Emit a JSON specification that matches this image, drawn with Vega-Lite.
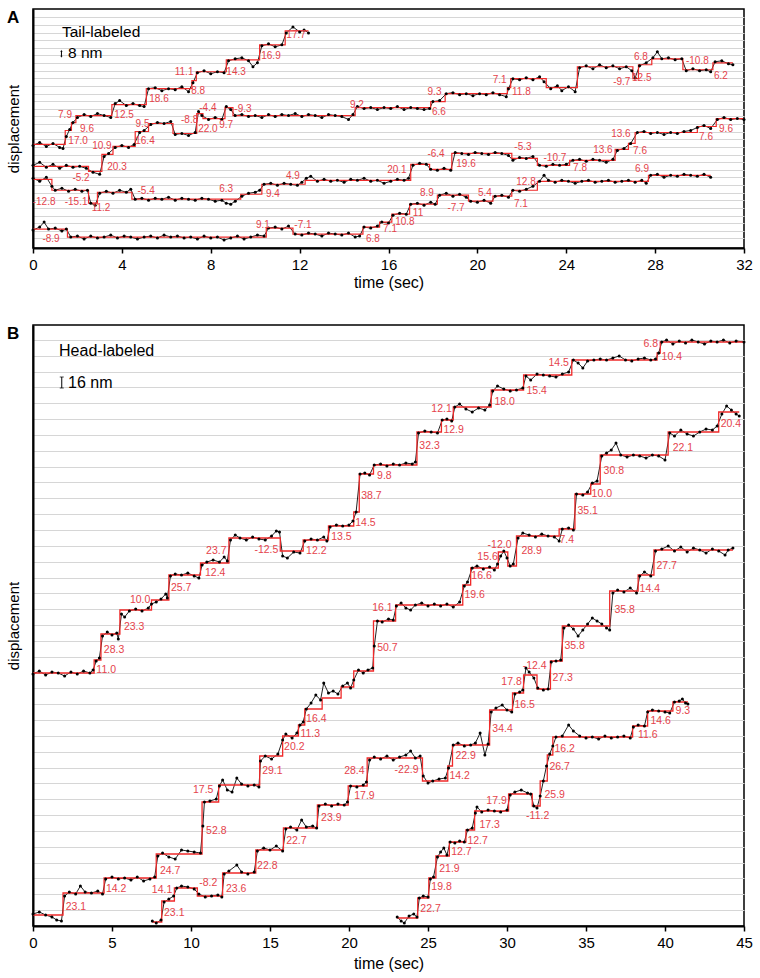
{
"$schema": "https://vega.github.io/schema/vega-lite/v6.json",
"background": "white",
"padding": {"left": 5, "top": 8, "right": 5, "bottom": 2},
"spacing": 33,
"config": {
  "font": "Liberation Sans",
  "view": {"stroke": "black", "strokeWidth": 1.5},
  "axis": {"labelFont": "Liberation Sans", "titleFont": "Liberation Sans", "labelFontSize": 15, "titleFontSize": 16, "titleFontWeight": "normal", "labelColor": "black", "titleColor": "black", "tickColor": "black", "domainColor": "black", "gridColor": "#d6d6d6", "gridWidth": 1.2}
},
"datasets": {
  "aSteps": [
    {"k":"1","t":0,"d":104},{"k":"1","t":1.45,"d":118},{"k":"1","t":1.73,"d":126},{"k":"1","t":1.93,"d":133},{"k":"1","t":3.55,"d":144},{"k":"1","t":5.1,"d":160},{"k":"1","t":7.15,"d":168},{"k":"1","t":7.35,"d":177},{"k":"1","t":8.7,"d":189},{"k":"1","t":10.2,"d":204},{"k":"1","t":11.35,"d":218},{"k":"1","t":12.4,"d":218},
    {"k":"2","t":0,"d":82},{"k":"2","t":2.5,"d":77},{"k":"2","t":3.1,"d":94},{"k":"2","t":3.6,"d":102},{"k":"2","t":4.6,"d":117},{"k":"2","t":5.2,"d":125},{"k":"2","t":6.3,"d":115},{"k":"2","t":7.37,"d":135},{"k":"2","t":7.65,"d":130},{"k":"2","t":8.64,"d":141},{"k":"2","t":9.0,"d":133},{"k":"2","t":14.5,"d":141},{"k":"2","t":17.9,"d":147},{"k":"2","t":18.55,"d":155},{"k":"2","t":21.35,"d":161},{"k":"2","t":21.5,"d":170},{"k":"2","t":23.1,"d":161},{"k":"2","t":24.5,"d":182},{"k":"2","t":27.0,"d":170},{"k":"2","t":27.25,"d":184},{"k":"2","t":27.85,"d":190},{"k":"2","t":29.25,"d":179},{"k":"2","t":30.6,"d":186},{"k":"2","t":31.5,"d":186},
    {"k":"3","t":0,"d":69},{"k":"3","t":0.85,"d":58},{"k":"3","t":2.5,"d":45},{"k":"3","t":2.9,"d":56},{"k":"3","t":4.45,"d":49},{"k":"3","t":9.35,"d":54},{"k":"3","t":10.3,"d":64},{"k":"3","t":12.25,"d":68},{"k":"3","t":17.0,"d":84},{"k":"3","t":17.85,"d":79},{"k":"3","t":18.85,"d":95},{"k":"3","t":21.55,"d":90},{"k":"3","t":22.7,"d":83},{"k":"3","t":24.15,"d":88},{"k":"3","t":26.2,"d":99},{"k":"3","t":26.8,"d":105},{"k":"3","t":27.1,"d":116},{"k":"3","t":29.9,"d":122},{"k":"3","t":30.75,"d":130},{"k":"3","t":32,"d":130},
    {"k":"4","t":0,"d":19},{"k":"4","t":1.55,"d":11},{"k":"4","t":10.5,"d":20},{"k":"4","t":11.7,"d":14},{"k":"4","t":14.85,"d":21},{"k":"4","t":15.6,"d":26},{"k":"4","t":16.15,"d":34},{"k":"4","t":16.95,"d":44},{"k":"4","t":18.2,"d":53},{"k":"4","t":19.6,"d":47},{"k":"4","t":20.7,"d":52},{"k":"4","t":21.55,"d":58},{"k":"4","t":22.7,"d":67},{"k":"4","t":27.7,"d":73},{"k":"4","t":30.5,"d":73}
  ],
  "aDots": [
    {"k":"1","t":0,"d":103},{"k":"1","t":0.3,"d":106},{"k":"1","t":0.6,"d":102},{"k":"1","t":0.9,"d":105},{"k":"1","t":1.2,"d":101},{"k":"1","t":1.35,"d":100},{"k":"1","t":1.5,"d":112},{"k":"1","t":1.65,"d":119},{"k":"1","t":1.8,"d":126},{"k":"1","t":2.0,"d":131},{"k":"1","t":2.3,"d":134},{"k":"1","t":2.6,"d":132},{"k":"1","t":2.9,"d":135},{"k":"1","t":3.2,"d":133},{"k":"1","t":3.5,"d":131},{"k":"1","t":3.7,"d":145},{"k":"1","t":3.9,"d":148},{"k":"1","t":4.2,"d":143},{"k":"1","t":4.5,"d":145},{"k":"1","t":4.8,"d":143},{"k":"1","t":5.0,"d":142},{"k":"1","t":5.2,"d":160},{"k":"1","t":5.5,"d":161},{"k":"1","t":5.8,"d":158},{"k":"1","t":6.1,"d":160},{"k":"1","t":6.4,"d":159},{"k":"1","t":6.7,"d":162},{"k":"1","t":7.0,"d":157},{"k":"1","t":7.2,"d":166},{"k":"1","t":7.4,"d":176},{"k":"1","t":7.7,"d":178},{"k":"1","t":8.0,"d":175},{"k":"1","t":8.3,"d":177},{"k":"1","t":8.6,"d":176},{"k":"1","t":8.8,"d":188},{"k":"1","t":9.1,"d":190},{"k":"1","t":9.4,"d":191},{"k":"1","t":9.7,"d":188},{"k":"1","t":9.9,"d":182},{"k":"1","t":10.1,"d":186},{"k":"1","t":10.3,"d":203},{"k":"1","t":10.6,"d":205},{"k":"1","t":10.9,"d":202},{"k":"1","t":11.2,"d":204},{"k":"1","t":11.4,"d":216},{"k":"1","t":11.7,"d":222},{"k":"1","t":12.0,"d":217},{"k":"1","t":12.2,"d":219},{"k":"1","t":12.4,"d":216},
    {"k":"2","t":0,"d":83},{"k":"2","t":0.3,"d":86},{"k":"2","t":0.6,"d":81},{"k":"2","t":0.9,"d":84},{"k":"2","t":1.2,"d":80},{"k":"2","t":1.5,"d":83},{"k":"2","t":1.8,"d":81},{"k":"2","t":2.1,"d":82},{"k":"2","t":2.4,"d":80},{"k":"2","t":2.7,"d":76},{"k":"2","t":3.0,"d":74},{"k":"2","t":3.2,"d":92},{"k":"2","t":3.4,"d":95},{"k":"2","t":3.7,"d":101},{"k":"2","t":4.0,"d":103},{"k":"2","t":4.3,"d":101},{"k":"2","t":4.55,"d":104},{"k":"2","t":4.8,"d":116},{"k":"2","t":5.0,"d":118},{"k":"2","t":5.3,"d":124},{"k":"2","t":5.6,"d":126},{"k":"2","t":5.9,"d":125},{"k":"2","t":6.2,"d":127},{"k":"2","t":6.4,"d":114},{"k":"2","t":6.7,"d":115},{"k":"2","t":7.0,"d":113},{"k":"2","t":7.3,"d":116},{"k":"2","t":7.45,"d":137},{"k":"2","t":7.6,"d":133},{"k":"2","t":7.9,"d":129},{"k":"2","t":8.2,"d":131},{"k":"2","t":8.5,"d":129},{"k":"2","t":8.7,"d":142},{"k":"2","t":8.9,"d":139},{"k":"2","t":9.1,"d":133},{"k":"2","t":9.4,"d":134},{"k":"2","t":9.7,"d":132},{"k":"2","t":10.0,"d":133},{"k":"2","t":10.3,"d":131},{"k":"2","t":10.6,"d":134},{"k":"2","t":10.9,"d":132},{"k":"2","t":11.2,"d":134},{"k":"2","t":11.5,"d":133},{"k":"2","t":11.8,"d":135},{"k":"2","t":12.1,"d":132},{"k":"2","t":12.4,"d":134},{"k":"2","t":12.7,"d":133},{"k":"2","t":13.0,"d":131},{"k":"2","t":13.3,"d":134},{"k":"2","t":13.6,"d":133},{"k":"2","t":13.9,"d":132},{"k":"2","t":14.2,"d":129},{"k":"2","t":14.4,"d":134},{"k":"2","t":14.6,"d":142},{"k":"2","t":14.9,"d":140},{"k":"2","t":15.2,"d":141},{"k":"2","t":15.5,"d":139},{"k":"2","t":15.8,"d":141},{"k":"2","t":16.1,"d":140},{"k":"2","t":16.4,"d":142},{"k":"2","t":16.7,"d":139},{"k":"2","t":17.0,"d":141},{"k":"2","t":17.3,"d":140},{"k":"2","t":17.6,"d":139},{"k":"2","t":17.85,"d":140},{"k":"2","t":18.0,"d":147},{"k":"2","t":18.3,"d":148},{"k":"2","t":18.6,"d":155},{"k":"2","t":18.9,"d":156},{"k":"2","t":19.2,"d":154},{"k":"2","t":19.5,"d":155},{"k":"2","t":19.8,"d":153},{"k":"2","t":20.1,"d":155},{"k":"2","t":20.4,"d":154},{"k":"2","t":20.7,"d":156},{"k":"2","t":21.0,"d":154},{"k":"2","t":21.3,"d":152},{"k":"2","t":21.4,"d":160},{"k":"2","t":21.6,"d":170},{"k":"2","t":21.9,"d":169},{"k":"2","t":22.2,"d":171},{"k":"2","t":22.5,"d":169},{"k":"2","t":22.8,"d":172},{"k":"2","t":23.0,"d":167},{"k":"2","t":23.3,"d":160},{"k":"2","t":23.6,"d":163},{"k":"2","t":23.8,"d":158},{"k":"2","t":24.1,"d":162},{"k":"2","t":24.4,"d":157},{"k":"2","t":24.6,"d":181},{"k":"2","t":24.9,"d":183},{"k":"2","t":25.2,"d":180},{"k":"2","t":25.5,"d":184},{"k":"2","t":25.8,"d":181},{"k":"2","t":26.1,"d":183},{"k":"2","t":26.4,"d":180},{"k":"2","t":26.7,"d":182},{"k":"2","t":26.95,"d":178},{"k":"2","t":27.1,"d":171},{"k":"2","t":27.3,"d":183},{"k":"2","t":27.6,"d":186},{"k":"2","t":27.9,"d":191},{"k":"2","t":28.1,"d":197},{"k":"2","t":28.3,"d":190},{"k":"2","t":28.6,"d":191},{"k":"2","t":28.9,"d":189},{"k":"2","t":29.2,"d":190},{"k":"2","t":29.4,"d":178},{"k":"2","t":29.7,"d":180},{"k":"2","t":30.0,"d":178},{"k":"2","t":30.3,"d":179},{"k":"2","t":30.5,"d":177},{"k":"2","t":30.7,"d":187},{"k":"2","t":31.0,"d":188},{"k":"2","t":31.3,"d":185},{"k":"2","t":31.5,"d":184},
    {"k":"3","t":0,"d":70},{"k":"3","t":0.3,"d":67},{"k":"3","t":0.6,"d":71},{"k":"3","t":0.85,"d":62},{"k":"3","t":1.0,"d":58},{"k":"3","t":1.3,"d":60},{"k":"3","t":1.6,"d":57},{"k":"3","t":1.9,"d":59},{"k":"3","t":2.2,"d":57},{"k":"3","t":2.45,"d":58},{"k":"3","t":2.6,"d":45},{"k":"3","t":2.8,"d":43},{"k":"3","t":3.0,"d":55},{"k":"3","t":3.3,"d":57},{"k":"3","t":3.6,"d":55},{"k":"3","t":3.9,"d":58},{"k":"3","t":4.2,"d":56},{"k":"3","t":4.4,"d":59},{"k":"3","t":4.6,"d":49},{"k":"3","t":4.9,"d":50},{"k":"3","t":5.2,"d":48},{"k":"3","t":5.5,"d":50},{"k":"3","t":5.8,"d":49},{"k":"3","t":6.1,"d":51},{"k":"3","t":6.4,"d":48},{"k":"3","t":6.7,"d":50},{"k":"3","t":7.0,"d":49},{"k":"3","t":7.3,"d":48},{"k":"3","t":7.6,"d":50},{"k":"3","t":7.9,"d":49},{"k":"3","t":8.2,"d":47},{"k":"3","t":8.5,"d":48},{"k":"3","t":8.7,"d":45},{"k":"3","t":8.9,"d":44},{"k":"3","t":9.1,"d":47},{"k":"3","t":9.4,"d":52},{"k":"3","t":9.7,"d":55},{"k":"3","t":10.0,"d":56},{"k":"3","t":10.2,"d":58},{"k":"3","t":10.4,"d":64},{"k":"3","t":10.7,"d":65},{"k":"3","t":11.0,"d":63},{"k":"3","t":11.3,"d":65},{"k":"3","t":11.6,"d":64},{"k":"3","t":11.9,"d":63},{"k":"3","t":12.1,"d":66},{"k":"3","t":12.3,"d":70},{"k":"3","t":12.5,"d":72},{"k":"3","t":12.8,"d":67},{"k":"3","t":13.1,"d":69},{"k":"3","t":13.4,"d":67},{"k":"3","t":13.7,"d":68},{"k":"3","t":14.0,"d":66},{"k":"3","t":14.3,"d":69},{"k":"3","t":14.6,"d":68},{"k":"3","t":14.9,"d":70},{"k":"3","t":15.2,"d":67},{"k":"3","t":15.5,"d":68},{"k":"3","t":15.8,"d":65},{"k":"3","t":16.1,"d":67},{"k":"3","t":16.4,"d":69},{"k":"3","t":16.7,"d":68},{"k":"3","t":16.9,"d":70},{"k":"3","t":17.1,"d":83},{"k":"3","t":17.4,"d":85},{"k":"3","t":17.7,"d":84},{"k":"3","t":17.9,"d":79},{"k":"3","t":18.2,"d":78},{"k":"3","t":18.5,"d":80},{"k":"3","t":18.8,"d":78},{"k":"3","t":19.0,"d":96},{"k":"3","t":19.3,"d":95},{"k":"3","t":19.6,"d":94},{"k":"3","t":19.9,"d":96},{"k":"3","t":20.2,"d":95},{"k":"3","t":20.5,"d":94},{"k":"3","t":20.8,"d":96},{"k":"3","t":21.1,"d":95},{"k":"3","t":21.4,"d":93},{"k":"3","t":21.6,"d":88},{"k":"3","t":21.9,"d":91},{"k":"3","t":22.2,"d":90},{"k":"3","t":22.5,"d":92},{"k":"3","t":22.8,"d":83},{"k":"3","t":23.1,"d":82},{"k":"3","t":23.4,"d":84},{"k":"3","t":23.7,"d":83},{"k":"3","t":24.0,"d":84},{"k":"3","t":24.3,"d":88},{"k":"3","t":24.6,"d":89},{"k":"3","t":24.9,"d":87},{"k":"3","t":25.2,"d":89},{"k":"3","t":25.5,"d":88},{"k":"3","t":25.8,"d":86},{"k":"3","t":26.1,"d":89},{"k":"3","t":26.3,"d":98},{"k":"3","t":26.6,"d":100},{"k":"3","t":26.9,"d":105},{"k":"3","t":27.2,"d":116},{"k":"3","t":27.5,"d":117},{"k":"3","t":27.8,"d":115},{"k":"3","t":28.1,"d":116},{"k":"3","t":28.4,"d":114},{"k":"3","t":28.7,"d":116},{"k":"3","t":29.0,"d":115},{"k":"3","t":29.3,"d":117},{"k":"3","t":29.6,"d":118},{"k":"3","t":29.9,"d":121},{"k":"3","t":30.2,"d":123},{"k":"3","t":30.5,"d":120},{"k":"3","t":30.8,"d":129},{"k":"3","t":31.1,"d":131},{"k":"3","t":31.4,"d":129},{"k":"3","t":31.7,"d":130},{"k":"3","t":32.0,"d":129},
    {"k":"4","t":0,"d":18},{"k":"4","t":0.3,"d":21},{"k":"4","t":0.5,"d":26},{"k":"4","t":0.7,"d":19},{"k":"4","t":1.0,"d":20},{"k":"4","t":1.3,"d":17},{"k":"4","t":1.5,"d":19},{"k":"4","t":1.7,"d":11},{"k":"4","t":2.0,"d":12},{"k":"4","t":2.3,"d":9},{"k":"4","t":2.6,"d":12},{"k":"4","t":2.9,"d":10},{"k":"4","t":3.2,"d":11},{"k":"4","t":3.5,"d":13},{"k":"4","t":3.8,"d":10},{"k":"4","t":4.1,"d":12},{"k":"4","t":4.4,"d":11},{"k":"4","t":4.7,"d":9},{"k":"4","t":5.0,"d":11},{"k":"4","t":5.3,"d":12},{"k":"4","t":5.6,"d":10},{"k":"4","t":5.9,"d":13},{"k":"4","t":6.2,"d":11},{"k":"4","t":6.5,"d":12},{"k":"4","t":6.8,"d":10},{"k":"4","t":7.1,"d":11},{"k":"4","t":7.4,"d":9},{"k":"4","t":7.7,"d":12},{"k":"4","t":8.0,"d":10},{"k":"4","t":8.3,"d":11},{"k":"4","t":8.6,"d":8},{"k":"4","t":8.9,"d":10},{"k":"4","t":9.2,"d":12},{"k":"4","t":9.5,"d":9},{"k":"4","t":9.8,"d":11},{"k":"4","t":10.1,"d":13},{"k":"4","t":10.4,"d":12},{"k":"4","t":10.6,"d":20},{"k":"4","t":10.9,"d":21},{"k":"4","t":11.2,"d":19},{"k":"4","t":11.5,"d":22},{"k":"4","t":11.8,"d":14},{"k":"4","t":12.1,"d":13},{"k":"4","t":12.4,"d":15},{"k":"4","t":12.7,"d":14},{"k":"4","t":13.0,"d":12},{"k":"4","t":13.3,"d":15},{"k":"4","t":13.6,"d":14},{"k":"4","t":13.9,"d":13},{"k":"4","t":14.2,"d":15},{"k":"4","t":14.5,"d":11},{"k":"4","t":14.7,"d":12},{"k":"4","t":14.9,"d":21},{"k":"4","t":15.2,"d":20},{"k":"4","t":15.5,"d":22},{"k":"4","t":15.7,"d":26},{"k":"4","t":16.0,"d":25},{"k":"4","t":16.2,"d":33},{"k":"4","t":16.5,"d":35},{"k":"4","t":16.8,"d":34},{"k":"4","t":17.0,"d":44},{"k":"4","t":17.3,"d":45},{"k":"4","t":17.6,"d":43},{"k":"4","t":17.9,"d":46},{"k":"4","t":18.1,"d":44},{"k":"4","t":18.3,"d":53},{"k":"4","t":18.6,"d":55},{"k":"4","t":18.9,"d":52},{"k":"4","t":19.2,"d":54},{"k":"4","t":19.5,"d":51},{"k":"4","t":19.7,"d":47},{"k":"4","t":20.0,"d":46},{"k":"4","t":20.3,"d":48},{"k":"4","t":20.6,"d":45},{"k":"4","t":20.8,"d":52},{"k":"4","t":21.1,"d":53},{"k":"4","t":21.4,"d":51},{"k":"4","t":21.6,"d":58},{"k":"4","t":21.9,"d":57},{"k":"4","t":22.2,"d":59},{"k":"4","t":22.5,"d":62},{"k":"4","t":22.8,"d":67},{"k":"4","t":23.0,"d":73},{"k":"4","t":23.2,"d":68},{"k":"4","t":23.5,"d":66},{"k":"4","t":23.8,"d":68},{"k":"4","t":24.1,"d":67},{"k":"4","t":24.4,"d":65},{"k":"4","t":24.7,"d":67},{"k":"4","t":25.0,"d":68},{"k":"4","t":25.3,"d":66},{"k":"4","t":25.6,"d":67},{"k":"4","t":25.9,"d":68},{"k":"4","t":26.2,"d":66},{"k":"4","t":26.5,"d":67},{"k":"4","t":26.8,"d":68},{"k":"4","t":27.1,"d":66},{"k":"4","t":27.4,"d":68},{"k":"4","t":27.6,"d":65},{"k":"4","t":27.8,"d":73},{"k":"4","t":28.1,"d":74},{"k":"4","t":28.4,"d":71},{"k":"4","t":28.7,"d":73},{"k":"4","t":29.0,"d":72},{"k":"4","t":29.3,"d":74},{"k":"4","t":29.6,"d":73},{"k":"4","t":29.9,"d":72},{"k":"4","t":30.2,"d":74},{"k":"4","t":30.5,"d":71}
  ],
  "aLab": [
    {"t":1.44,"d":134,"s":"7.9"},{"t":2.43,"d":119,"s":"9.6"},{"t":2.03,"d":107,"s":"17.0"},{"t":4.1,"d":134,"s":"12.5"},{"t":5.67,"d":150,"s":"18.6"},{"t":7.43,"d":158,"s":"8.8"},{"t":6.8,"d":177,"s":"11.1"},{"t":9.14,"d":177,"s":"14.3"},{"t":10.71,"d":193,"s":"16.9"},{"t":11.84,"d":214,"s":"17.7"},
    {"t":2.16,"d":70,"s":"-5.2"},{"t":3.78,"d":81,"s":"20.3"},{"t":3.1,"d":102,"s":"10.9"},{"t":5.04,"d":107,"s":"16.4"},{"t":4.93,"d":125,"s":"9.5"},{"t":7.05,"d":129,"s":"-8.8"},{"t":7.87,"d":120,"s":"22.0"},{"t":7.87,"d":141,"s":"-4.4"},{"t":8.69,"d":124,"s":"9.7"},{"t":9.45,"d":140,"s":"-9.3"},{"t":14.58,"d":144,"s":"9.2"},{"t":18.27,"d":137,"s":"6.6"},{"t":18.07,"d":157,"s":"9.3"},{"t":21.0,"d":169,"s":"7.1"},{"t":21.98,"d":157,"s":"11.8"},{"t":26.5,"d":167,"s":"-9.7"},{"t":27.4,"d":171,"s":"12.5"},{"t":27.36,"d":192,"s":"6.8"},{"t":29.9,"d":188,"s":"-10.8"},{"t":30.96,"d":173,"s":"6.2"},
    {"t":0.5,"d":46,"s":"-12.8"},{"t":1.94,"d":46,"s":"-15.1"},{"t":3.06,"d":40,"s":"11.2"},{"t":5.09,"d":57,"s":"-5.4"},{"t":8.69,"d":59,"s":"6.3"},{"t":10.8,"d":54,"s":"9.4"},{"t":11.7,"d":72,"s":"4.9"},{"t":16.38,"d":78,"s":"20.1"},{"t":18.14,"d":94,"s":"-6.4"},{"t":19.49,"d":84,"s":"19.6"},{"t":22.05,"d":101,"s":"-5.3"},{"t":23.49,"d":90,"s":"-10.7"},{"t":24.62,"d":80,"s":"7.8"},{"t":25.65,"d":98,"s":"13.6"},{"t":27.32,"d":97,"s":"7.6"},{"t":26.46,"d":114,"s":"13.6"},{"t":30.29,"d":111,"s":"7.6"},{"t":31.19,"d":119,"s":"9.6"},
    {"t":0.81,"d":9,"s":"-8.9"},{"t":10.35,"d":23,"s":"9.1"},{"t":12.15,"d":23,"s":"-7.1"},{"t":15.3,"d":9,"s":"6.8"},{"t":16.07,"d":19,"s":"7.1"},{"t":16.74,"d":26,"s":"10.8"},{"t":17.33,"d":35,"s":"11"},{"t":17.73,"d":55,"s":"8.9"},{"t":19.04,"d":40,"s":"-7.7"},{"t":20.34,"d":55,"s":"5.4"},{"t":21.96,"d":44,"s":"7.1"},{"t":22.19,"d":66,"s":"12.8"},{"t":27.41,"d":79,"s":"6.9"}
  ],
  "aAnn": [{"t":1.3,"d":211.5,"s":"Tail-labeled"},{"t":1.575,"d":191,"s":"8 nm"}],
  "aLetter": [{"t":-1.17,"d":226,"s":"A"}],
  "aBar": [{"t":1.28,"d":192,"d2":198}],
  "bSteps": [
    {"k":"1","t":0,"d":253},{"k":"1","t":3.87,"d":266},{"k":"1","t":4.3,"d":292},{"k":"1","t":5.5,"d":316},{"k":"1","t":7.5,"d":326},{"k":"1","t":8.6,"d":351},{"k":"1","t":10.6,"d":363},{"k":"1","t":12.4,"d":388},{"k":"1","t":15.65,"d":375},{"k":"1","t":17.1,"d":386},{"k":"1","t":18.7,"d":400},{"k":"1","t":20.3,"d":414},{"k":"1","t":20.65,"d":452},{"k":"1","t":21.55,"d":461},{"k":"1","t":24.3,"d":494},{"k":"1","t":25.85,"d":506},{"k":"1","t":26.6,"d":519},{"k":"1","t":29.0,"d":536},{"k":"1","t":31.05,"d":551},{"k":"1","t":34.1,"d":566},{"k":"1","t":39.5,"d":573},{"k":"1","t":39.7,"d":584},{"k":"1","t":45,"d":584},
    {"k":"2","t":0,"d":11},{"k":"2","t":1.9,"d":33},{"k":"2","t":4.5,"d":48},{"k":"2","t":7.8,"d":72},{"k":"2","t":10.7,"d":124},{"k":"2","t":11.75,"d":141},{"k":"2","t":14.35,"d":170},{"k":"2","t":15.8,"d":190},{"k":"2","t":16.8,"d":201},{"k":"2","t":17.2,"d":217},{"k":"2","t":18.3,"d":228},{"k":"2","t":19.5,"d":239},{"k":"2","t":20.3,"d":255},{"k":"2","t":21.55,"d":305},{"k":"2","t":22.95,"d":321},{"k":"2","t":27.2,"d":341},{"k":"2","t":27.7,"d":358},{"k":"2","t":29.45,"d":374},{"k":"2","t":30.05,"d":360},{"k":"2","t":30.6,"d":390},{"k":"2","t":33.3,"d":397},{"k":"2","t":34.3,"d":432},{"k":"2","t":35.3,"d":442},{"k":"2","t":35.9,"d":471},{"k":"2","t":40.2,"d":494},{"k":"2","t":43.4,"d":514},{"k":"2","t":44.7,"d":514},
    {"k":"3","t":7.55,"d":4},{"k":"3","t":8.15,"d":25},{"k":"3","t":8.95,"d":38},{"k":"3","t":10.4,"d":30},{"k":"3","t":12.0,"d":53},{"k":"3","t":14.1,"d":76},{"k":"3","t":15.85,"d":98},{"k":"3","t":18.0,"d":121},{"k":"3","t":19.95,"d":140},{"k":"3","t":21.15,"d":168},{"k":"3","t":24.65,"d":145},{"k":"3","t":26.25,"d":160},{"k":"3","t":26.55,"d":181},{"k":"3","t":28.9,"d":216},{"k":"3","t":30.35,"d":233},{"k":"3","t":31.05,"d":251},{"k":"3","t":31.9,"d":237},{"k":"3","t":32.75,"d":265},{"k":"3","t":33.5,"d":300},{"k":"3","t":36.5,"d":335},{"k":"3","t":38.3,"d":351},{"k":"3","t":39.3,"d":376},{"k":"3","t":44.3,"d":376},
    {"k":"4","t":23.05,"d":8},{"k":"4","t":24.35,"d":28},{"k":"4","t":25.05,"d":48},{"k":"4","t":25.5,"d":70},{"k":"4","t":26.35,"d":84},{"k":"4","t":27.4,"d":96},{"k":"4","t":27.95,"d":115},{"k":"4","t":30.1,"d":132},{"k":"4","t":31.6,"d":120},{"k":"4","t":32.1,"d":145},{"k":"4","t":32.55,"d":171},{"k":"4","t":32.9,"d":189},{"k":"4","t":37.95,"d":200},{"k":"4","t":38.9,"d":215},{"k":"4","t":40.5,"d":224},{"k":"4","t":41.45,"d":224}
  ],
  "bDots": [
    {"k":"1","t":0,"d":252},{"k":"1","t":0.4,"d":255},{"k":"1","t":0.8,"d":251},{"k":"1","t":1.2,"d":254},{"k":"1","t":1.6,"d":253},{"k":"1","t":2.0,"d":250},{"k":"1","t":2.4,"d":254},{"k":"1","t":2.8,"d":252},{"k":"1","t":3.2,"d":255},{"k":"1","t":3.6,"d":253},{"k":"1","t":3.8,"d":256},{"k":"1","t":4.0,"d":265},{"k":"1","t":4.2,"d":268},{"k":"1","t":4.4,"d":290},{"k":"1","t":4.7,"d":294},{"k":"1","t":5.0,"d":291},{"k":"1","t":5.3,"d":293},{"k":"1","t":5.4,"d":287},{"k":"1","t":5.6,"d":312},{"k":"1","t":5.8,"d":309},{"k":"1","t":6.1,"d":315},{"k":"1","t":6.5,"d":317},{"k":"1","t":6.9,"d":315},{"k":"1","t":7.3,"d":318},{"k":"1","t":7.5,"d":322},{"k":"1","t":7.8,"d":324},{"k":"1","t":8.1,"d":327},{"k":"1","t":8.4,"d":332},{"k":"1","t":8.5,"d":328},{"k":"1","t":8.7,"d":350},{"k":"1","t":9.0,"d":352},{"k":"1","t":9.4,"d":351},{"k":"1","t":9.8,"d":353},{"k":"1","t":10.2,"d":350},{"k":"1","t":10.5,"d":348},{"k":"1","t":10.7,"d":361},{"k":"1","t":11.0,"d":364},{"k":"1","t":11.4,"d":366},{"k":"1","t":11.8,"d":364},{"k":"1","t":12.1,"d":369},{"k":"1","t":12.3,"d":365},{"k":"1","t":12.5,"d":386},{"k":"1","t":12.8,"d":391},{"k":"1","t":13.1,"d":388},{"k":"1","t":13.5,"d":386},{"k":"1","t":13.9,"d":389},{"k":"1","t":14.3,"d":387},{"k":"1","t":14.7,"d":386},{"k":"1","t":15.1,"d":390},{"k":"1","t":15.4,"d":395},{"k":"1","t":15.6,"d":394},{"k":"1","t":15.8,"d":370},{"k":"1","t":16.1,"d":368},{"k":"1","t":16.5,"d":374},{"k":"1","t":16.9,"d":373},{"k":"1","t":17.2,"d":385},{"k":"1","t":17.6,"d":387},{"k":"1","t":18.0,"d":386},{"k":"1","t":18.4,"d":389},{"k":"1","t":18.6,"d":385},{"k":"1","t":18.8,"d":399},{"k":"1","t":19.2,"d":401},{"k":"1","t":19.6,"d":400},{"k":"1","t":20.0,"d":401},{"k":"1","t":20.25,"d":405},{"k":"1","t":20.45,"d":414},{"k":"1","t":20.7,"d":452},{"k":"1","t":21.0,"d":453},{"k":"1","t":21.3,"d":451},{"k":"1","t":21.6,"d":461},{"k":"1","t":22.0,"d":462},{"k":"1","t":22.4,"d":460},{"k":"1","t":22.8,"d":462},{"k":"1","t":23.2,"d":461},{"k":"1","t":23.6,"d":463},{"k":"1","t":24.0,"d":462},{"k":"1","t":24.2,"d":464},{"k":"1","t":24.4,"d":493},{"k":"1","t":24.8,"d":495},{"k":"1","t":25.2,"d":494},{"k":"1","t":25.6,"d":493},{"k":"1","t":25.9,"d":506},{"k":"1","t":26.2,"d":507},{"k":"1","t":26.5,"d":505},{"k":"1","t":26.7,"d":519},{"k":"1","t":27.0,"d":522},{"k":"1","t":27.4,"d":517},{"k":"1","t":27.8,"d":514},{"k":"1","t":28.2,"d":518},{"k":"1","t":28.6,"d":516},{"k":"1","t":28.9,"d":521},{"k":"1","t":29.1,"d":535},{"k":"1","t":29.4,"d":540},{"k":"1","t":29.8,"d":537},{"k":"1","t":30.2,"d":535},{"k":"1","t":30.6,"d":536},{"k":"1","t":31.0,"d":538},{"k":"1","t":31.2,"d":550},{"k":"1","t":31.5,"d":546},{"k":"1","t":31.9,"d":552},{"k":"1","t":32.3,"d":551},{"k":"1","t":32.7,"d":550},{"k":"1","t":33.1,"d":549},{"k":"1","t":33.5,"d":552},{"k":"1","t":33.9,"d":554},{"k":"1","t":34.2,"d":566},{"k":"1","t":34.5,"d":563},{"k":"1","t":34.8,"d":558},{"k":"1","t":35.1,"d":565},{"k":"1","t":35.5,"d":566},{"k":"1","t":35.9,"d":567},{"k":"1","t":36.3,"d":566},{"k":"1","t":36.7,"d":568},{"k":"1","t":37.1,"d":570},{"k":"1","t":37.5,"d":566},{"k":"1","t":37.9,"d":565},{"k":"1","t":38.3,"d":567},{"k":"1","t":38.7,"d":568},{"k":"1","t":39.1,"d":566},{"k":"1","t":39.4,"d":567},{"k":"1","t":39.6,"d":573},{"k":"1","t":39.8,"d":584},{"k":"1","t":40.1,"d":586},{"k":"1","t":40.5,"d":582},{"k":"1","t":40.9,"d":585},{"k":"1","t":41.3,"d":583},{"k":"1","t":41.7,"d":586},{"k":"1","t":42.1,"d":584},{"k":"1","t":42.5,"d":582},{"k":"1","t":42.9,"d":585},{"k":"1","t":43.3,"d":584},{"k":"1","t":43.7,"d":586},{"k":"1","t":44.1,"d":583},{"k":"1","t":44.5,"d":585},{"k":"1","t":45,"d":584},
    {"k":"2","t":0,"d":12},{"k":"2","t":0.4,"d":14},{"k":"2","t":0.8,"d":11},{"k":"2","t":1.2,"d":9},{"k":"2","t":1.5,"d":6},{"k":"2","t":1.8,"d":5},{"k":"2","t":2.0,"d":30},{"k":"2","t":2.3,"d":34},{"k":"2","t":2.7,"d":32},{"k":"2","t":3.0,"d":40},{"k":"2","t":3.3,"d":34},{"k":"2","t":3.7,"d":33},{"k":"2","t":4.1,"d":35},{"k":"2","t":4.4,"d":32},{"k":"2","t":4.6,"d":47},{"k":"2","t":5.0,"d":49},{"k":"2","t":5.4,"d":47},{"k":"2","t":5.8,"d":48},{"k":"2","t":6.2,"d":46},{"k":"2","t":6.6,"d":49},{"k":"2","t":7.0,"d":45},{"k":"2","t":7.4,"d":47},{"k":"2","t":7.7,"d":49},{"k":"2","t":7.9,"d":70},{"k":"2","t":8.2,"d":73},{"k":"2","t":8.6,"d":69},{"k":"2","t":9.0,"d":67},{"k":"2","t":9.4,"d":76},{"k":"2","t":9.8,"d":75},{"k":"2","t":10.2,"d":74},{"k":"2","t":10.6,"d":73},{"k":"2","t":10.75,"d":100},{"k":"2","t":10.85,"d":124},{"k":"2","t":11.2,"d":125},{"k":"2","t":11.6,"d":127},{"k":"2","t":11.8,"d":140},{"k":"2","t":12.0,"d":146},{"k":"2","t":12.3,"d":136},{"k":"2","t":12.6,"d":134},{"k":"2","t":12.9,"d":148},{"k":"2","t":13.2,"d":142},{"k":"2","t":13.6,"d":140},{"k":"2","t":14.0,"d":141},{"k":"2","t":14.3,"d":139},{"k":"2","t":14.4,"d":165},{"k":"2","t":14.7,"d":170},{"k":"2","t":15.1,"d":167},{"k":"2","t":15.5,"d":172},{"k":"2","t":15.8,"d":186},{"k":"2","t":16.0,"d":192},{"k":"2","t":16.4,"d":188},{"k":"2","t":16.7,"d":193},{"k":"2","t":16.9,"d":201},{"k":"2","t":17.1,"d":204},{"k":"2","t":17.3,"d":217},{"k":"2","t":17.6,"d":223},{"k":"2","t":17.9,"d":231},{"k":"2","t":18.2,"d":226},{"k":"2","t":18.4,"d":243},{"k":"2","t":18.7,"d":233},{"k":"2","t":19.0,"d":235},{"k":"2","t":19.3,"d":232},{"k":"2","t":19.6,"d":240},{"k":"2","t":19.9,"d":243},{"k":"2","t":20.1,"d":238},{"k":"2","t":20.3,"d":246},{"k":"2","t":20.6,"d":256},{"k":"2","t":20.9,"d":253},{"k":"2","t":21.2,"d":256},{"k":"2","t":21.5,"d":258},{"k":"2","t":21.6,"d":280},{"k":"2","t":21.8,"d":305},{"k":"2","t":22.1,"d":304},{"k":"2","t":22.5,"d":307},{"k":"2","t":22.8,"d":306},{"k":"2","t":23.0,"d":320},{"k":"2","t":23.3,"d":323},{"k":"2","t":23.6,"d":318},{"k":"2","t":23.9,"d":316},{"k":"2","t":24.2,"d":321},{"k":"2","t":24.6,"d":323},{"k":"2","t":25.0,"d":320},{"k":"2","t":25.4,"d":322},{"k":"2","t":25.8,"d":320},{"k":"2","t":26.2,"d":322},{"k":"2","t":26.6,"d":319},{"k":"2","t":27.0,"d":324},{"k":"2","t":27.3,"d":340},{"k":"2","t":27.5,"d":344},{"k":"2","t":27.8,"d":358},{"k":"2","t":28.1,"d":360},{"k":"2","t":28.5,"d":357},{"k":"2","t":28.9,"d":359},{"k":"2","t":29.2,"d":356},{"k":"2","t":29.4,"d":362},{"k":"2","t":29.6,"d":370},{"k":"2","t":29.8,"d":375},{"k":"2","t":30.0,"d":368},{"k":"2","t":30.2,"d":360},{"k":"2","t":30.4,"d":362},{"k":"2","t":30.7,"d":388},{"k":"2","t":31.0,"d":393},{"k":"2","t":31.4,"d":391},{"k":"2","t":31.8,"d":389},{"k":"2","t":32.2,"d":392},{"k":"2","t":32.6,"d":390},{"k":"2","t":33.0,"d":389},{"k":"2","t":33.3,"d":385},{"k":"2","t":33.5,"d":397},{"k":"2","t":33.9,"d":398},{"k":"2","t":34.2,"d":396},{"k":"2","t":34.4,"d":432},{"k":"2","t":34.8,"d":431},{"k":"2","t":35.1,"d":434},{"k":"2","t":35.4,"d":443},{"k":"2","t":35.7,"d":445},{"k":"2","t":36.0,"d":470},{"k":"2","t":36.3,"d":473},{"k":"2","t":36.6,"d":476},{"k":"2","t":36.9,"d":483},{"k":"2","t":37.2,"d":471},{"k":"2","t":37.6,"d":469},{"k":"2","t":38.0,"d":471},{"k":"2","t":38.4,"d":470},{"k":"2","t":38.8,"d":468},{"k":"2","t":39.2,"d":471},{"k":"2","t":39.6,"d":470},{"k":"2","t":40.0,"d":466},{"k":"2","t":40.3,"d":493},{"k":"2","t":40.6,"d":490},{"k":"2","t":41.0,"d":496},{"k":"2","t":41.4,"d":492},{"k":"2","t":41.8,"d":490},{"k":"2","t":42.2,"d":494},{"k":"2","t":42.6,"d":497},{"k":"2","t":43.0,"d":496},{"k":"2","t":43.3,"d":500},{"k":"2","t":43.6,"d":512},{"k":"2","t":43.9,"d":520},{"k":"2","t":44.2,"d":516},{"k":"2","t":44.5,"d":512},{"k":"2","t":44.7,"d":510},
    {"k":"3","t":7.55,"d":5},{"k":"3","t":7.8,"d":3},{"k":"3","t":8.1,"d":6},{"k":"3","t":8.3,"d":24},{"k":"3","t":8.6,"d":27},{"k":"3","t":8.9,"d":30},{"k":"3","t":9.1,"d":38},{"k":"3","t":9.4,"d":40},{"k":"3","t":9.8,"d":39},{"k":"3","t":10.2,"d":37},{"k":"3","t":10.5,"d":32},{"k":"3","t":10.9,"d":29},{"k":"3","t":11.3,"d":30},{"k":"3","t":11.7,"d":31},{"k":"3","t":11.95,"d":29},{"k":"3","t":12.1,"d":52},{"k":"3","t":12.4,"d":55},{"k":"3","t":12.9,"d":61},{"k":"3","t":13.2,"d":54},{"k":"3","t":13.6,"d":52},{"k":"3","t":14.0,"d":54},{"k":"3","t":14.2,"d":75},{"k":"3","t":14.6,"d":78},{"k":"3","t":15.0,"d":76},{"k":"3","t":15.4,"d":80},{"k":"3","t":15.8,"d":75},{"k":"3","t":16.0,"d":97},{"k":"3","t":16.3,"d":99},{"k":"3","t":16.7,"d":96},{"k":"3","t":17.0,"d":106},{"k":"3","t":17.3,"d":99},{"k":"3","t":17.7,"d":100},{"k":"3","t":17.95,"d":98},{"k":"3","t":18.1,"d":120},{"k":"3","t":18.5,"d":122},{"k":"3","t":18.9,"d":120},{"k":"3","t":19.3,"d":122},{"k":"3","t":19.7,"d":121},{"k":"3","t":19.9,"d":124},{"k":"3","t":20.1,"d":140},{"k":"3","t":20.5,"d":139},{"k":"3","t":20.9,"d":141},{"k":"3","t":21.1,"d":144},{"k":"3","t":21.3,"d":166},{"k":"3","t":21.6,"d":169},{"k":"3","t":22.0,"d":167},{"k":"3","t":22.4,"d":170},{"k":"3","t":22.8,"d":166},{"k":"3","t":23.2,"d":169},{"k":"3","t":23.6,"d":171},{"k":"3","t":23.9,"d":175},{"k":"3","t":24.2,"d":168},{"k":"3","t":24.5,"d":170},{"k":"3","t":24.7,"d":150},{"k":"3","t":25.0,"d":143},{"k":"3","t":25.3,"d":145},{"k":"3","t":25.7,"d":147},{"k":"3","t":26.1,"d":148},{"k":"3","t":26.3,"d":158},{"k":"3","t":26.6,"d":181},{"k":"3","t":26.9,"d":183},{"k":"3","t":27.3,"d":180},{"k":"3","t":27.7,"d":181},{"k":"3","t":28.0,"d":183},{"k":"3","t":28.3,"d":193},{"k":"3","t":28.6,"d":171},{"k":"3","t":28.8,"d":182},{"k":"3","t":29.0,"d":214},{"k":"3","t":29.3,"d":218},{"k":"3","t":29.7,"d":221},{"k":"3","t":30.0,"d":216},{"k":"3","t":30.3,"d":214},{"k":"3","t":30.5,"d":232},{"k":"3","t":30.8,"d":234},{"k":"3","t":31.0,"d":236},{"k":"3","t":31.2,"d":258},{"k":"3","t":31.4,"d":254},{"k":"3","t":31.7,"d":248},{"k":"3","t":31.95,"d":238},{"k":"3","t":32.3,"d":236},{"k":"3","t":32.6,"d":237},{"k":"3","t":32.8,"d":264},{"k":"3","t":33.1,"d":265},{"k":"3","t":33.4,"d":266},{"k":"3","t":33.6,"d":298},{"k":"3","t":33.9,"d":301},{"k":"3","t":34.2,"d":297},{"k":"3","t":34.5,"d":290},{"k":"3","t":34.8,"d":296},{"k":"3","t":35.1,"d":302},{"k":"3","t":35.4,"d":308},{"k":"3","t":35.7,"d":305},{"k":"3","t":36.0,"d":302},{"k":"3","t":36.3,"d":298},{"k":"3","t":36.5,"d":296},{"k":"3","t":36.7,"d":333},{"k":"3","t":37.0,"d":336},{"k":"3","t":37.4,"d":334},{"k":"3","t":37.8,"d":338},{"k":"3","t":38.2,"d":333},{"k":"3","t":38.4,"d":350},{"k":"3","t":38.7,"d":354},{"k":"3","t":39.1,"d":350},{"k":"3","t":39.4,"d":375},{"k":"3","t":39.8,"d":377},{"k":"3","t":40.2,"d":380},{"k":"3","t":40.6,"d":375},{"k":"3","t":41.0,"d":379},{"k":"3","t":41.4,"d":374},{"k":"3","t":41.8,"d":378},{"k":"3","t":42.2,"d":376},{"k":"3","t":42.6,"d":373},{"k":"3","t":43.0,"d":377},{"k":"3","t":43.4,"d":375},{"k":"3","t":43.8,"d":371},{"k":"3","t":44.0,"d":376},{"k":"3","t":44.3,"d":378},
    {"k":"4","t":23.05,"d":9},{"k":"4","t":23.3,"d":5},{"k":"4","t":23.5,"d":3},{"k":"4","t":23.8,"d":10},{"k":"4","t":24.1,"d":12},{"k":"4","t":24.3,"d":9},{"k":"4","t":24.45,"d":28},{"k":"4","t":24.7,"d":30},{"k":"4","t":25.0,"d":29},{"k":"4","t":25.15,"d":47},{"k":"4","t":25.35,"d":49},{"k":"4","t":25.6,"d":69},{"k":"4","t":25.8,"d":74},{"k":"4","t":26.0,"d":78},{"k":"4","t":26.2,"d":71},{"k":"4","t":26.4,"d":84},{"k":"4","t":26.7,"d":83},{"k":"4","t":27.0,"d":85},{"k":"4","t":27.3,"d":84},{"k":"4","t":27.5,"d":96},{"k":"4","t":27.8,"d":98},{"k":"4","t":28.0,"d":113},{"k":"4","t":28.1,"d":119},{"k":"4","t":28.4,"d":114},{"k":"4","t":28.8,"d":116},{"k":"4","t":29.2,"d":115},{"k":"4","t":29.6,"d":114},{"k":"4","t":30.0,"d":116},{"k":"4","t":30.2,"d":131},{"k":"4","t":30.5,"d":134},{"k":"4","t":30.9,"d":136},{"k":"4","t":31.3,"d":133},{"k":"4","t":31.5,"d":132},{"k":"4","t":31.7,"d":120},{"k":"4","t":31.9,"d":118},{"k":"4","t":32.1,"d":130},{"k":"4","t":32.3,"d":145},{"k":"4","t":32.5,"d":160},{"k":"4","t":32.7,"d":172},{"k":"4","t":32.9,"d":180},{"k":"4","t":33.1,"d":189},{"k":"4","t":33.5,"d":190},{"k":"4","t":33.9,"d":201},{"k":"4","t":34.2,"d":195},{"k":"4","t":34.6,"d":190},{"k":"4","t":35.0,"d":188},{"k":"4","t":35.4,"d":189},{"k":"4","t":35.8,"d":187},{"k":"4","t":36.2,"d":190},{"k":"4","t":36.6,"d":188},{"k":"4","t":37.0,"d":189},{"k":"4","t":37.4,"d":190},{"k":"4","t":37.8,"d":188},{"k":"4","t":38.0,"d":199},{"k":"4","t":38.3,"d":201},{"k":"4","t":38.7,"d":200},{"k":"4","t":38.9,"d":214},{"k":"4","t":39.2,"d":216},{"k":"4","t":39.6,"d":215},{"k":"4","t":40.0,"d":214},{"k":"4","t":40.3,"d":213},{"k":"4","t":40.6,"d":224},{"k":"4","t":40.9,"d":225},{"k":"4","t":41.1,"d":227},{"k":"4","t":41.3,"d":223},{"k":"4","t":41.45,"d":222}
  ],
  "bLab": [
    {"t":4.63,"d":256,"s":"11.0"},{"t":5.13,"d":276,"s":"28.3"},{"t":6.4,"d":299,"s":"23.3"},{"t":6.78,"d":326,"s":"10.0"},{"t":9.38,"d":338,"s":"25.7"},{"t":11.53,"d":353,"s":"12.4"},{"t":11.6,"d":375,"s":"23.7"},{"t":14.77,"d":376,"s":"-12.5"},{"t":17.93,"d":375,"s":"12.2"},{"t":19.52,"d":389,"s":"13.5"},{"t":21.04,"d":403,"s":"14.5"},{"t":21.42,"d":430,"s":"38.7"},{"t":22.24,"d":450,"s":"9.8"},{"t":25.1,"d":480,"s":"32.3"},{"t":26.62,"d":496,"s":"12.9"},{"t":25.86,"d":517,"s":"12.1"},{"t":29.85,"d":524,"s":"18.0"},{"t":31.88,"d":535,"s":"15.4"},{"t":33.27,"d":563,"s":"14.5"},{"t":39.1,"d":582,"s":"6.8"},{"t":40.43,"d":569,"s":"10.4"},
    {"t":2.72,"d":19,"s":"23.1"},{"t":5.26,"d":37,"s":"14.2"},{"t":8.68,"d":55,"s":"24.7"},{"t":11.6,"d":95,"s":"52.8"},{"t":10.77,"d":136,"s":"17.5"},{"t":15.15,"d":155,"s":"29.1"},{"t":16.54,"d":179,"s":"20.2"},{"t":17.55,"d":192,"s":"11.3"},{"t":17.93,"d":207,"s":"16.4"},{"t":22.43,"d":278,"s":"50.7"},{"t":22.12,"d":318,"s":"16.1"},{"t":27.95,"d":331,"s":"19.6"},{"t":28.39,"d":350,"s":"16.6"},{"t":28.77,"d":369,"s":"15.6"},{"t":29.53,"d":381,"s":"-12.0"},{"t":31.56,"d":375,"s":"28.9"},{"t":33.78,"d":386,"s":"7.4"},{"t":35.11,"d":415,"s":"35.1"},{"t":36.0,"d":432,"s":"10.0"},{"t":36.76,"d":455,"s":"30.8"},{"t":41.13,"d":478,"s":"22.1"},{"t":44.17,"d":502,"s":"20.4"},
    {"t":8.94,"d":13,"s":"23.1"},{"t":8.17,"d":36,"s":"14.1"},{"t":11.09,"d":43,"s":"-8.2"},{"t":12.86,"d":37,"s":"23.6"},{"t":14.83,"d":60,"s":"22.8"},{"t":16.67,"d":85,"s":"22.7"},{"t":18.88,"d":108,"s":"23.9"},{"t":20.98,"d":130,"s":"17.9"},{"t":20.34,"d":155,"s":"28.4"},{"t":23.64,"d":156,"s":"-22.9"},{"t":27.0,"d":150,"s":"14.2"},{"t":27.38,"d":170,"s":"22.9"},{"t":29.72,"d":197,"s":"34.4"},{"t":31.12,"d":221,"s":"16.5"},{"t":30.29,"d":244,"s":"17.8"},{"t":31.75,"d":260,"s":"-12.4"},{"t":33.52,"d":248,"s":"27.3"},{"t":34.28,"d":280,"s":"35.8"},{"t":37.45,"d":316,"s":"35.8"},{"t":39.04,"d":337,"s":"14.4"},{"t":40.11,"d":360,"s":"27.7"},
    {"t":25.16,"d":17,"s":"22.7"},{"t":25.86,"d":39,"s":"19.8"},{"t":26.36,"d":57,"s":"21.9"},{"t":27.12,"d":74,"s":"12.7"},{"t":28.14,"d":85,"s":"12.7"},{"t":28.9,"d":101,"s":"17.3"},{"t":29.34,"d":125,"s":"17.9"},{"t":31.94,"d":110,"s":"-11.2"},{"t":33.02,"d":131,"s":"25.9"},{"t":33.33,"d":159,"s":"26.7"},{"t":33.65,"d":177,"s":"16.2"},{"t":38.91,"d":191,"s":"11.6"},{"t":39.73,"d":205,"s":"14.6"},{"t":41.13,"d":215,"s":"9.3"}
  ],
  "bAnn": [{"t":1.65,"d":570,"s":"Head-labeled"},{"t":2.22,"d":538,"s":"16 nm"}],
  "bLetter": [{"t":-1.65,"d":587,"s":"B"}],
  "bBar": [{"t":1.82,"d":538,"d2":549}]
},
"vconcat": [
  {
    "width": 711, "height": 239,
    "encoding": {
      "x": {"field": "t", "type": "quantitative", "scale": {"domain": [0, 32], "nice": false, "zero": false},
            "axis": {"title": "time (sec)", "values": [0, 4, 8, 12, 16, 20, 24, 28, 32], "grid": false, "tickSize": 5, "tickWidth": 1.5, "labelPadding": 4, "titlePadding": 2, "domainWidth": 2, "labelFlush": false}},
      "y": {"field": "d", "type": "quantitative", "scale": {"domain": [0, 240], "nice": false, "zero": false},
            "axis": {"title": "displacement", "titleFontSize": 15, "labels": false, "ticks": false, "domain": true, "domainWidth": 2, "grid": true, "titlePadding": 12,
                     "values": [9.6, 17.26, 24.91, 32.57, 40.22, 47.88, 55.53, 63.19, 70.84, 78.5, 86.15, 93.81, 101.46, 109.12, 116.77, 124.43, 132.08, 139.74, 147.39, 155.05, 162.7, 170.36, 178.01, 185.67, 193.32, 200.98, 208.63, 216.29, 223.94, 231.6]}}
    },
    "layer": [
      {"data": {"name": "aDots"}, "mark": {"type": "line", "color": "#222222", "strokeWidth": 1}, "encoding": {"detail": {"field": "k"}}},
      {"data": {"name": "aSteps"}, "mark": {"type": "line", "interpolate": "step-after", "color": "#f02a2a", "strokeWidth": 1.2}, "encoding": {"detail": {"field": "k"}}},
      {"data": {"name": "aDots"}, "mark": {"type": "point", "filled": true, "color": "black", "size": 9, "opacity": 1}, "encoding": {"detail": {"field": "k"}}},
      {"data": {"name": "aLab"}, "mark": {"type": "text", "color": "#e5434b", "fontSize": 10, "font": "Liberation Sans"}, "encoding": {"text": {"field": "s"}}},
      {"data": {"name": "aAnn"}, "mark": {"type": "text", "align": "left", "baseline": "alphabetic", "fontSize": 15.5, "color": "black", "font": "Liberation Sans"}, "encoding": {"text": {"field": "s"}}},
      {"data": {"name": "aLetter"}, "mark": {"type": "text", "align": "left", "baseline": "alphabetic", "fontSize": 17, "fontWeight": "bold", "color": "black", "font": "Liberation Sans"}, "encoding": {"text": {"field": "s"}}},
      {"data": {"name": "aBar"}, "mark": {"type": "rule", "color": "black", "strokeWidth": 1}, "encoding": {"y2": {"field": "d2"}}},
      {"data": {"name": "aBar"}, "mark": {"type": "point", "shape": "triangle-up", "filled": true, "color": "black", "size": 6}, "encoding": {"y": {"field": "d2", "type": "quantitative"}}},
      {"data": {"name": "aBar"}, "mark": {"type": "point", "shape": "triangle-down", "filled": true, "color": "black", "size": 6}}
    ]
  },
  {
    "width": 711, "height": 601,
    "encoding": {
      "x": {"field": "t", "type": "quantitative", "scale": {"domain": [0, 45], "nice": false, "zero": false},
            "axis": {"title": "time (sec)", "values": [0, 5, 10, 15, 20, 25, 30, 35, 40, 45], "grid": false, "tickSize": 5, "tickWidth": 1.5, "labelPadding": 4, "titlePadding": 5, "domainWidth": 2, "labelFlush": false}},
      "y": {"field": "d", "type": "quantitative", "scale": {"domain": [0, 601], "nice": false, "zero": false},
            "axis": {"title": "displacement", "titleFontSize": 15, "labels": false, "ticks": false, "domain": true, "domainWidth": 2, "grid": true, "titlePadding": 12,
                     "values": [15.84, 31.68, 47.52, 63.36, 79.2, 95.04, 110.88, 126.72, 142.56, 158.4, 174.24, 190.08, 205.92, 221.76, 237.6, 253.44, 269.28, 285.12, 300.96, 316.8, 332.64, 348.48, 364.32, 380.16, 396, 411.84, 427.68, 443.52, 459.36, 475.2, 491.04, 506.88, 522.72, 538.56, 554.4, 570.24, 586.08]}}
    },
    "layer": [
      {"data": {"name": "bDots"}, "mark": {"type": "line", "color": "#222222", "strokeWidth": 1}, "encoding": {"detail": {"field": "k"}}},
      {"data": {"name": "bSteps"}, "mark": {"type": "line", "interpolate": "step-after", "color": "#f02a2a", "strokeWidth": 1.3}, "encoding": {"detail": {"field": "k"}}},
      {"data": {"name": "bDots"}, "mark": {"type": "point", "filled": true, "color": "black", "size": 9, "opacity": 1}, "encoding": {"detail": {"field": "k"}}},
      {"data": {"name": "bLab"}, "mark": {"type": "text", "color": "#e5434b", "fontSize": 10.5, "font": "Liberation Sans"}, "encoding": {"text": {"field": "s"}}},
      {"data": {"name": "bAnn"}, "mark": {"type": "text", "align": "left", "baseline": "alphabetic", "fontSize": 16, "color": "black", "font": "Liberation Sans"}, "encoding": {"text": {"field": "s"}}},
      {"data": {"name": "bLetter"}, "mark": {"type": "text", "align": "left", "baseline": "alphabetic", "fontSize": 17, "fontWeight": "bold", "color": "black", "font": "Liberation Sans"}, "encoding": {"text": {"field": "s"}}},
      {"data": {"name": "bBar"}, "mark": {"type": "rule", "color": "black", "strokeWidth": 1}, "encoding": {"y2": {"field": "d2"}}},
      {"data": {"name": "bBar"}, "mark": {"type": "point", "shape": "stroke", "filled": false, "color": "black", "size": 16, "strokeWidth": 1}, "encoding": {"y": {"field": "d2", "type": "quantitative"}}},
      {"data": {"name": "bBar"}, "mark": {"type": "point", "shape": "stroke", "filled": false, "color": "black", "size": 16, "strokeWidth": 1}}
    ]
  }
]
}
